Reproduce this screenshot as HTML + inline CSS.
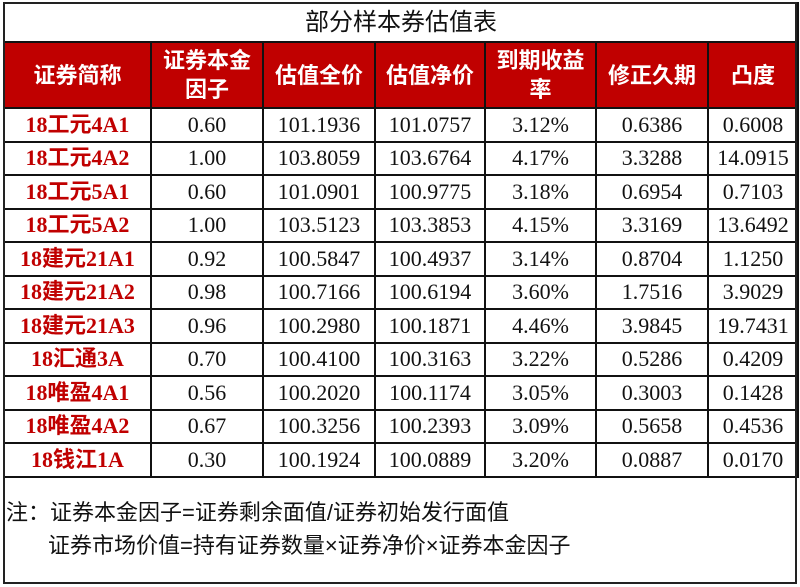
<!DOCTYPE html>
<html><head><meta charset="utf-8"><style>
body{margin:0;background:#fff;width:800px;height:587px;overflow:hidden}
.w{position:absolute;left:3px;top:2px;width:794px;height:582px;border:2px solid #222;box-sizing:border-box}
table{position:absolute;left:3px;top:2px;border-collapse:collapse;table-layout:fixed;width:794px}
td{border:2px solid #111;padding:0;text-align:center;font-family:"Liberation Serif","Noto Serif CJK SC",serif;font-size:22px;line-height:26px;color:#111;white-space:nowrap;overflow:hidden}
.t td{font-family:"Liberation Sans","Noto Sans CJK SC",sans-serif;font-size:24px;height:37px}
.h td{background:#C00000;color:#fff;font-family:"Liberation Sans","Noto Sans CJK SC",sans-serif;font-weight:bold;font-size:22px;line-height:29px;height:64px}
td.n{color:#C00000;font-weight:bold;font-family:"Liberation Serif","Noto Sans CJK SC",serif;font-size:22px}
.r td{height:31.5px}
.f{position:absolute;left:6px;top:496px;font-family:"Liberation Sans","Noto Sans CJK SC",sans-serif;font-size:22px;color:#111;line-height:33px}
</style></head><body>
<table>
<colgroup><col style="width:147px"><col style="width:112px"><col style="width:112px"><col style="width:110px"><col style="width:111px"><col style="width:112px"><col style="width:90px"></colgroup>
<tr class="t"><td colspan="7">部分样本券估值表</td></tr>
<tr class="h"><td>证券简称</td><td>证券本金<br>因子</td><td>估值全价</td><td>估值净价</td><td>到期收益<br>率</td><td>修正久期</td><td>凸度</td></tr>
<tr class="r"><td class="n">18工元4A1</td><td>0.60</td><td>101.1936</td><td>101.0757</td><td>3.12%</td><td>0.6386</td><td>0.6008</td></tr>
<tr class="r"><td class="n">18工元4A2</td><td>1.00</td><td>103.8059</td><td>103.6764</td><td>4.17%</td><td>3.3288</td><td>14.0915</td></tr>
<tr class="r"><td class="n">18工元5A1</td><td>0.60</td><td>101.0901</td><td>100.9775</td><td>3.18%</td><td>0.6954</td><td>0.7103</td></tr>
<tr class="r"><td class="n">18工元5A2</td><td>1.00</td><td>103.5123</td><td>103.3853</td><td>4.15%</td><td>3.3169</td><td>13.6492</td></tr>
<tr class="r"><td class="n">18建元21A1</td><td>0.92</td><td>100.5847</td><td>100.4937</td><td>3.14%</td><td>0.8704</td><td>1.1250</td></tr>
<tr class="r"><td class="n">18建元21A2</td><td>0.98</td><td>100.7166</td><td>100.6194</td><td>3.60%</td><td>1.7516</td><td>3.9029</td></tr>
<tr class="r"><td class="n">18建元21A3</td><td>0.96</td><td>100.2980</td><td>100.1871</td><td>4.46%</td><td>3.9845</td><td>19.7431</td></tr>
<tr class="r"><td class="n">18汇通3A</td><td>0.70</td><td>100.4100</td><td>100.3163</td><td>3.22%</td><td>0.5286</td><td>0.4209</td></tr>
<tr class="r"><td class="n">18唯盈4A1</td><td>0.56</td><td>100.2020</td><td>100.1174</td><td>3.05%</td><td>0.3003</td><td>0.1428</td></tr>
<tr class="r"><td class="n">18唯盈4A2</td><td>0.67</td><td>100.3256</td><td>100.2393</td><td>3.09%</td><td>0.5658</td><td>0.4536</td></tr>
<tr class="r"><td class="n">18钱江1A</td><td>0.30</td><td>100.1924</td><td>100.0889</td><td>3.20%</td><td>0.0887</td><td>0.0170</td></tr>
</table>
<div class="w"></div>
<div class="f">注：证券本金因子=证券剩余面值/证券初始发行面值<br><span style="padding-left:42px">证券市场价值=持有证券数量×证券净价×证券本金因子</span></div>
</body></html>
